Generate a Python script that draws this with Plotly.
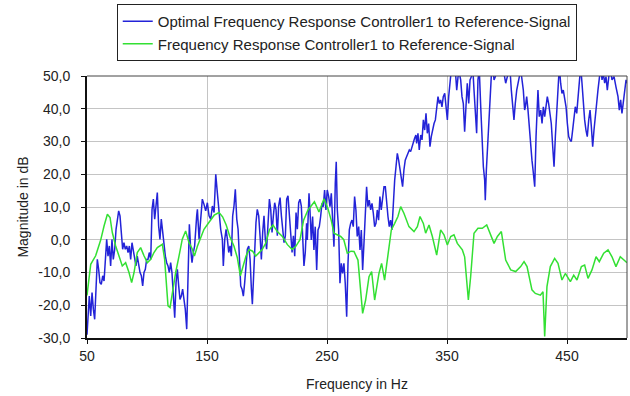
import plotly.graph_objects as go

# ---- data ----
opt_freq = [50.0, 50.8, 51.9, 53.1, 54.2, 55.3, 56.4, 57.5, 58.6, 59.7, 60.8, 61.9, 63.1, 64.2, 65.3, 66.4,
            67.5, 68.6, 69.7, 70.8, 71.9, 73.1, 74.2, 75.3, 76.4, 77.5, 78.6, 79.7, 80.8, 81.9, 83.1, 84.2,
            85.3, 86.4, 87.5, 88.6, 89.7, 90.8, 91.9, 93.1, 94.2, 95.3, 96.4, 97.5, 98.6, 99.7, 100.8, 101.9,
            103.1, 104.2, 105.3, 106.4, 107.5, 108.6, 109.7, 110.8, 111.9, 113.1, 114.2, 115.3, 116.4, 117.5,
            118.6, 119.7, 120.8, 121.9, 123.1, 124.2, 125.3, 126.4, 127.5, 128.6, 129.7, 130.8, 131.9, 133.1,
            134.2, 135.3, 136.4, 137.5, 138.6, 139.7, 141.4, 142.0, 143.4, 144.8, 146.1, 147.5, 148.9, 150.3,
            151.7, 153.1, 154.5, 155.9, 157.3, 158.6, 160.0, 161.4, 162.8, 163.6, 164.8, 165.9, 167.0, 168.1,
            169.2, 170.3, 171.4, 172.5, 173.6, 174.8, 175.9, 177.0, 178.1, 179.2, 180.3, 181.4, 182.5, 183.6,
            184.8, 185.9, 187.0, 187.8, 188.6, 189.7, 190.8, 191.9, 193.1, 194.2, 195.3, 196.4, 197.5, 198.6,
            199.7, 200.9, 202.0, 203.1, 204.2, 205.3, 206.4, 207.5, 208.6, 209.7, 210.9, 212.0, 213.1, 214.2,
            215.3, 216.4, 217.5, 218.6, 219.7, 220.9, 222.0, 223.1, 224.2, 225.3, 226.4, 227.5, 228.6, 229.7,
            230.8, 231.9, 233.0, 233.6, 235.0, 235.8, 236.9, 238.0, 239.1, 240.2, 241.4, 242.5, 243.6, 244.7,
            245.8, 246.9, 248.0, 249.1, 250.2, 251.4, 252.5, 253.6, 254.7, 255.8, 256.9, 257.7, 258.6, 259.7,
            260.8, 261.9, 263.0, 264.1, 265.2, 266.4, 267.5, 268.6, 269.7, 270.8, 271.9, 273.0, 274.1, 275.2,
            276.4, 277.5, 278.6, 279.7, 280.8, 281.9, 283.0, 284.1, 285.2, 286.4, 287.5, 288.6, 289.7, 290.8,
            291.9, 293.0, 294.1, 295.2, 296.4, 297.5, 298.6, 299.7, 300.8, 301.9, 303.0, 304.1, 305.2, 306.4,
            307.5, 308.6, 309.7, 310.8, 311.9, 313.0, 314.1, 315.2, 316.4, 317.5, 318.6, 319.7, 320.8, 321.9,
            323.0, 324.1, 324.7, 325.8, 326.9, 328.1, 329.2, 330.3, 331.4, 332.5, 333.6, 334.7, 335.8, 336.9,
            338.1, 339.2, 340.3, 341.4, 342.5, 343.6, 344.7, 345.8, 346.9, 348.1, 349.2, 350.3, 351.4, 352.5,
            353.6, 354.7, 355.8, 356.9, 358.1, 359.2, 360.3, 361.4, 362.5, 363.6, 364.7, 365.8, 366.9, 368.1,
            369.2, 370.3, 371.4, 372.5, 373.6, 374.7, 375.8, 376.9, 378.1, 379.2, 380.3, 381.4, 381.9, 382.8,
            383.6, 384.7, 385.8, 386.9, 388.1, 389.2, 390.3, 391.4, 393.6, 395.8, 397.5, 398.9, 400.3, 402.5,
            403.6, 404.7, 405.8, 406.9, 408.1, 410.3, 411.4, 413.6, 414.7, 415.3, 416.4, 417.5, 418.6, 419.7,
            420.8, 421.7, 422.5, 423.1, 424.2, 425.0, 425.8, 426.9, 428.1, 429.2, 430.3, 431.4, 432.5, 433.6,
            434.7, 435.8, 436.9, 438.1, 439.2, 440.3, 441.4, 442.5, 443.6, 444.7, 445.8, 446.9, 448.1, 449.2,
            450.3, 451.4, 452.5, 453.6, 454.7, 455.8, 456.9, 458.1, 459.2, 460.3, 461.4, 462.5, 463.6, 464.7,
            465.8, 466.9, 468.1, 469.2, 470.3, 471.4, 472.5, 473.6, 474.7, 475.8, 476.9, 478.1, 479.2, 480.3,
            481.4, 482.5, 483.6, 484.7, 485.8, 487.5, 489.2, 490.8, 492.5, 493.6, 494.7, 495.8, 496.9, 498.1,
            499.2, 500.0]
opt_mag = [-29.0, -24.3, -17.2, -23.3, -16.1, -21.2, -24.3, -15.1, -6.0, -9.0, -13.1, -13.6, -11.0, -12.6, -7.0, 0.1,
           -5.0, -1.9, -8.0, 0.1, -6.0, -2.9, 3.2, 6.3, 8.8, 7.3, 1.2, -2.9, -0.9, -2.9, -1.9, -3.9,
           -1.9, -6.0, -0.9, -2.9, -6.0, -8.0, -5.0, -8.0, -10.0, -11.0, -14.1, -10.0, -9.0, -6.0, -6.0, -3.9,
           -6.0, 9.3, 12.4, 6.3, 10.8, 14.4, 4.2, 0.1, 6.3, 2.2, -1.9, -5.0, -7.0, -8.0,
           -10.0, -7.0, -10.0, -16.1, -23.8, -13.1, -9.0, -14.1, -18.2, -17.2, -15.1, -18.2, -21.2, -27.3,
           -12.1, 4.7, -2.9, -7.0, -3.9, -1.9, 7.3, 9.3, 0.1, 7.3, 12.4, 10.8, 8.8, 11.3,
           7.3, 6.3, 10.3, 8.3, 20.0, 14.4, 7.3, 3.2, 0.1, -8.0, 0.1, 3.2, 0.1, -3.9,
           -1.9, -5.0, 7.3, 10.3, 15.4, 6.3, 3.2, -5.0, -14.1, -15.1, -17.2, -13.1, -6.0, -2.9,
           -1.9, -6.0, -15.1, -19.7, -13.1, -2.9, 5.2, 9.3, 7.3, 1.2, -6.0, 2.2, 7.3, 0.1,
           -2.9, 5.2, 12.4, 9.3, 2.2, 7.3, 11.3, 9.3, 1.2, 10.3, 12.9, 7.3, 3.2, -0.9,
           1.2, 12.4, 13.4, 8.3, 1.2, -3.9, 1.2, -5.0, 8.3, 3.2, 11.3, 12.4, 10.3, 1.2,
           -8.0, -3.9, 5.0, -0.1, 14.2, 9.1, -0.1, 7.1, -3.1, 4.0, -9.2, 3.0, 4.0, 7.1,
           11.1, 10.1, 15.2, 9.1, 15.2, 13.2, 10.1, 14.2, 6.0, -2.1, 17.2, 23.8, 9.1, 3.0,
           -13.3, -7.2, -10.3, -7.2, -13.3, -23.5, -7.2, 3.0, 5.0, 6.0, 4.0, 13.2, 9.1, 1.0,
           4.0, -3.1, 3.0, -9.2, -1.1, 8.1, 16.2, 10.1, 12.1, 9.1, 11.1, 8.1, 4.0, 5.0,
           9.1, 6.0, 13.2, 9.1, 12.1, 16.2, 16.2, 11.1, 7.1, 4.0, 6.0, 3.0, 11.1, 18.2,
           22.3, 26.4, 24.3, 21.3, 18.2, 16.2, 21.3, 24.3, 25.4, 26.4, 27.4, 26.9, 28.4, 30.0,
           31.0, 32.0, 29.4, 32.5, 27.4, 32.0, 30.5, 36.6, 33.5, 38.6, 32.5, 35.5, 28.4, 31.5,
           34.0, 35.5, 36.6, 39.6, 43.7, 41.6, 42.7, 40.6, 43.7, 44.7, 40.6, 36.6, 43.7, 48.8,
           52.0, 53.0, 50.3, 52.0, 45.7, 49.8, 50.8, 48.8, 43.7, 41.6, 33.0, 40.6, 47.8, 41.6,
           48.8, 49.8, 53.0, 45.7, 38.6, 32.5, 48.8, 52.0, 40.6, 30.5, 22.3, 18.2, 12.1, 21.3,
           27.4, 33.5, 41.6, 49.8, 53.0, 48.8, 49.8, 52.0, 54.0, 53.0, 50.8, 47.8, 49.8, 52.0,
           45.7, 41.6, 36.6, 41.6, 45.7, 49.8, 52.0, 45.7, 39.6, 40.6, 43.7, 39.6, 34.5, 27.4,
           24.3, 21.3, 18.2, 16.2, 31.5, 39.6, 45.7, 37.6, 39.6, 35.5, 40.6, 37.6, 40.6, 43.7,
           41.6, 37.6, 35.5, 28.4, 22.3, 31.5, 39.6, 49.8, 53.0, 47.8, 44.7, 45.7, 42.7, 40.6,
           35.5, 31.5, 30.5, 30.0, 33.5, 36.6, 40.6, 38.6, 43.7, 48.8, 53.0, 47.8, 41.6, 36.6,
           33.5, 31.5, 36.6, 39.6, 34.5, 28.4, 33.5, 38.6, 41.6, 45.7, 49.8, 53.0, 48.8, 50.8,
           47.8, 49.8, 45.7, 48.8, 53.0, 48.8, 49.8, 46.7, 43.7, 39.6, 42.7, 38.6, 41.6, 45.7,
           48.8, 47.8]

act_freq = [50.0, 53.1, 57.2, 61.4, 64.2, 67.0, 69.2, 71.1, 73.9, 76.7, 79.4, 82.2, 85.0, 87.2, 89.2, 91.9,
            94.7, 97.5, 100.3, 103.1, 105.8, 108.6, 112.8, 114.7, 116.1, 117.5, 119.2, 121.1, 123.9, 126.7,
            129.4, 132.2, 135.0, 137.8, 139.5, 142.0, 147.5, 152.0, 156.0, 160.0, 163.0, 166.0, 169.0, 172.5,
            175.3, 177.8, 180.0, 182.5, 185.0, 188.0, 190.6, 193.0, 196.0, 199.0, 202.0, 205.0, 208.6, 212.8,
            217.0, 221.0, 224.0, 227.5, 230.5, 234.0, 237.5, 239.5, 243.3, 247.5, 250.8, 253.5, 255.8, 258.5,
            261.4, 264.0, 266.9, 270.0, 272.5, 275.8, 278.0, 279.7, 282.2, 285.0, 287.2, 289.7, 293.3, 295.5,
            298.0, 300.8, 303.6, 306.4, 309.1, 311.4, 314.1, 318.3, 322.5, 325.3, 327.5, 330.3, 332.2, 335.0,
            337.8, 341.4, 344.7, 347.5, 350.3, 353.1, 355.8, 358.6, 362.8, 364.7, 366.4, 367.8, 369.7, 372.5,
            375.8, 379.4, 383.1, 385.8, 389.2, 392.0, 395.3, 398.9, 403.1, 407.2, 411.4, 414.2, 416.7, 420.8,
            423.6, 427.8, 430.0, 431.4, 433.3, 436.1, 439.7, 442.5, 445.8, 448.6, 452.8, 455.6, 458.3, 462.0,
            464.7, 467.5, 470.8, 474.2, 476.9, 480.6, 484.2, 487.5, 490.8, 494.4, 497.2, 500.0]
act_mag = [-17.0, -7.5, -4.9, -0.1, 4.2, 7.8, 6.8, 2.2, -1.9, -5.4, -8.0, -7.0, -10.0, -13.1, -10.0, -3.9,
           -2.4, -4.9, -7.0, -6.0, -3.9, -2.4, -1.4, -6.0, -12.0, -20.2, -20.7, -16.1, -10.0, -4.9,
           0.2, 2.7, -0.9, -2.9, -5.0, -2.0, 3.2, 5.5, 7.5, 8.3, 7.0, 4.5, 1.0, -2.0,
           -5.5, -11.0, -8.0, -5.0, -3.0, -3.5, -5.0, -4.2, -3.0, -1.0, 3.0, 4.5, 2.5, 1.0,
           -1.5, -3.0, -2.0, 0.0, 6.0, 9.0, 10.5, 11.6, 8.5, 12.5, 9.5, 6.0, 2.0, 1.5,
           1.0, 0.0, -4.1, -3.5, -3.6, -6.2, -14.3, -22.5, -18.4, -11.3, -9.7, -18.4, -10.3, -7.2,
           -12.3, -5.2, 3.0, 5.0, 7.1, 10.1, 8.1, 4.0, 2.5, 4.0, 7.1, 5.0, 2.0, 4.5,
           1.0, -4.7, 3.0, 1.5, -1.6, 1.0, 1.5, -1.1, -3.1, -5.2, -13.3, -18.4, -11.3, 2.0,
           3.5, 3.5, 4.5, 2.0, -1.1, 1.0, 2.5, -6.2, -9.2, -9.7, -8.2, -6.7, -8.2, -15.3,
           -16.4, -16.9, -15.9, -29.5, -14.3, -8.2, -5.7, -7.2, -12.3, -10.3, -12.8, -10.8, -12.3, -8.2,
           -7.7, -11.8, -9.2, -5.2, -6.7, -4.1, -3.1, -5.2, -8.2, -5.2, -6.2, -7.0]

series_names = ["Optimal Frequency Response Controller1 to Reference-Signal",
                "Frequency Response Controller1 to Reference-Signal"]
x_ticks = [50, 150, 250, 350, 450]
y_ticks = [-30, -20, -10, 0, 10, 20, 30, 40, 50]
y_tick_labels = ["-30,0", "-20,0", "-10,0", "0,0", "10,0", "20,0", "30,0", "40,0", "50,0"]

FONT = "Liberation Sans, Arial, sans-serif"

fig = go.Figure()
fig.add_trace(go.Scatter(x=opt_freq, y=opt_mag, mode="lines", name=series_names[0],
                         line=dict(color="#2323d8", width=1.5)))
fig.add_trace(go.Scatter(x=act_freq, y=act_mag, mode="lines", name=series_names[1],
                         line=dict(color="#33e033", width=1.5)))

fig.update_layout(
    width=630, height=396,
    margin=dict(l=87, r=3, t=76, b=58, autoexpand=False),
    paper_bgcolor="white", plot_bgcolor="white",
    font=dict(family=FONT, size=14, color="#222"),
    showlegend=True,
    legend=dict(x=0.481, y=1.275, xanchor="center", yanchor="top",
                bordercolor="#222", borderwidth=1, bgcolor="white",
                font=dict(size=15, family=FONT, color="#222"),
                tracegroupgap=0, itemwidth=30),
    xaxis=dict(range=[50, 500], tickvals=x_ticks, showgrid=True, gridcolor="#c4c4c4", gridwidth=1,
               showline=True, linecolor="#111", linewidth=2, ticks="outside", ticklen=4,
               tickcolor="#111", zeroline=False,
               title=dict(text="Frequency in Hz", font=dict(size=14), standoff=16)),
    yaxis=dict(range=[-30, 50], tickvals=y_ticks, ticktext=y_tick_labels, showgrid=True,
               gridcolor="#c4c4c4", gridwidth=1, showline=True, linecolor="#111", linewidth=2,
               ticks="outside", ticklen=4, tickcolor="#111", zeroline=False, ticklabelstandoff=8,
               title=dict(text="Magnitude in dB", font=dict(size=14), standoff=6)),
    shapes=[
        dict(type="line", xref="paper", yref="paper", x0=0, x1=1, y0=1, y1=1,
             line=dict(color="#444", width=1)),
        dict(type="line", xref="paper", yref="paper", x0=1, x1=1, y0=0, y1=1,
             line=dict(color="#444", width=1)),
    ],
)

# remove the browser's default page margin so the figure sits at the window's corner
fig.write_html("out.html", config={"displayModeBar": False},
               post_script="document.body.style.margin='0';")
